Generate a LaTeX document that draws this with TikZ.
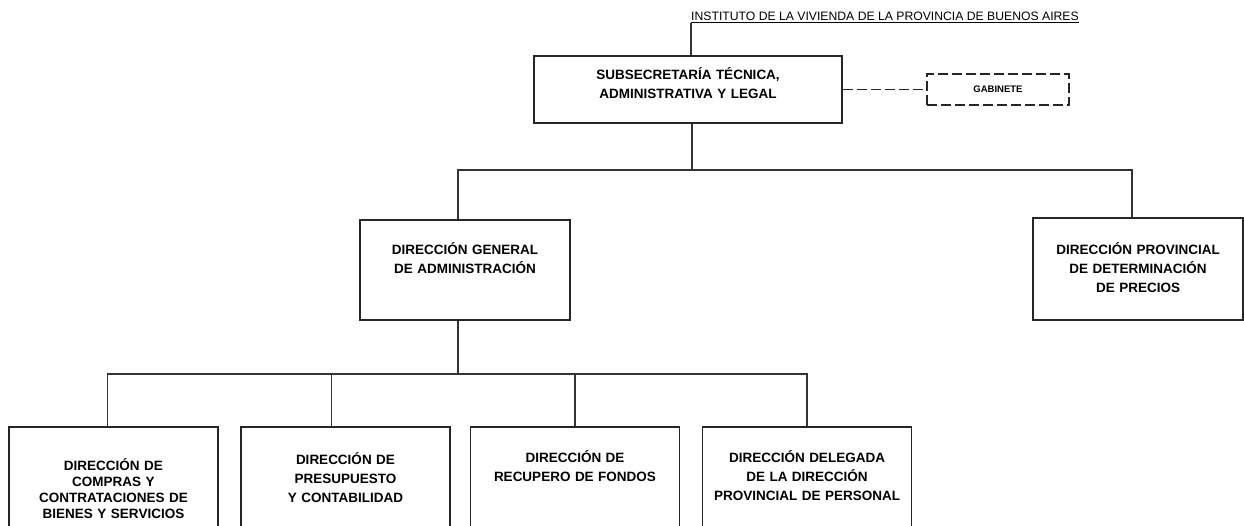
\documentclass[tikz,border=0pt]{standalone}
\usepackage{fontspec}
\setmainfont{Liberation Sans}
\usetikzlibrary{positioning}

\tikzset{
  unit/.style={draw=black!85, line width=1.5pt, minimum width=209pt, minimum height=102pt, inner sep=0pt},
  unittext/.style={text width=205pt, align=center, inner sep=0pt, text height=11pt, font=\bfseries\fontsize{13.5}{19}\selectfont},
  link/.style={draw=black!80, line width=1.5pt},
  advice/.style={draw=black!85, line width=1.5pt, dash pattern=on 10pt off 4pt},
}

\begin{document}
\begin{tikzpicture}[x=1pt, y=-1pt]
\useasboundingbox (0,0) rectangle (1244,526);
\clip (0,0) rectangle (1244,526);

% cabecera
\node[inner sep=0pt, anchor=south west, font=\fontsize{12.2}{14}\selectfont] (inst) at (691,23) {\underline{INSTITUTO DE LA VIVIENDA DE LA PROVINCIA DE BUENOS AIRES}};

\node[unit, minimum width=308pt, minimum height=67pt] (sub) at (688,89.5) {};
\node[unittext, text width=300pt, below=13pt of sub.north] (subtext) {SUBSECRETARÍA TÉCNICA,\\ ADMINISTRATIVA Y LEGAL};

\node[advice, minimum width=142pt, minimum height=31pt, inner sep=0pt, font=\bfseries\fontsize{9.5}{11}\selectfont] (gab) at (998,89.5) {GABINETE};

% segundo nivel
\node[unit, minimum width=210pt, minimum height=100pt] (dg) at (465,270) {};
\node[unittext, below=24pt of dg.north] (dgtext) {DIRECCIÓN GENERAL\\ DE ADMINISTRACIÓN};

\node[unit, minimum width=210pt] (dp) at (1138,269) {};
\node[unittext, below=26pt of dp.north] (dptext) {DIRECCIÓN PROVINCIAL\\ DE DETERMINACIÓN\\ DE PRECIOS};

% direcciones
\node[unit] (compras) at (113.5,478) {};
\node[unittext, font=\bfseries\fontsize{13.5}{16}\selectfont, below=33pt of compras.north] (comprastext) {DIRECCIÓN DE\\ COMPRAS Y\\ CONTRATACIONES DE\\ BIENES Y SERVICIOS};

\node[unit] (presu) at (345.5,478) {};
\node[unittext, below=27pt of presu.north] (presutext) {DIRECCIÓN DE\\ PRESUPUESTO\\ Y CONTABILIDAD};

\node[unit] (fondos) at (575,478) {};
\node[unittext, below=25pt of fondos.north] (fondostext) {DIRECCIÓN DE\\ RECUPERO DE FONDOS};

\node[unit] (personal) at (807,478) {};
\node[unittext, below=25pt of personal.north] (personaltext) {DIRECCIÓN DELEGADA\\ DE LA DIRECCIÓN\\ PROVINCIAL DE PERSONAL};

% conexiones
\coordinate (bus1) at (692,170);
\coordinate (bus2) at (458,374);

\draw[link] (inst.south west) -- (inst.south west |- sub.north);
\draw[link] (sub.south -| bus1) -- (bus1);
\draw[link] ([xshift=-7pt]dg.north) |- (bus1) -| ([xshift=-6pt]dp.north);
\draw[link] ([xshift=-7pt]dg.south) -- (bus2);
\draw[link] ([xshift=-6pt]compras.north) |- (bus2) -| (personal.north);
\draw[link] ([xshift=-14pt]presu.north) -- ([xshift=-14pt]presu.north |- bus2);
\draw[link] (fondos.north) -- (fondos.north |- bus2);
\draw[advice] (sub.east) -- (sub.east -| gab.west);
\end{tikzpicture}
\end{document}
